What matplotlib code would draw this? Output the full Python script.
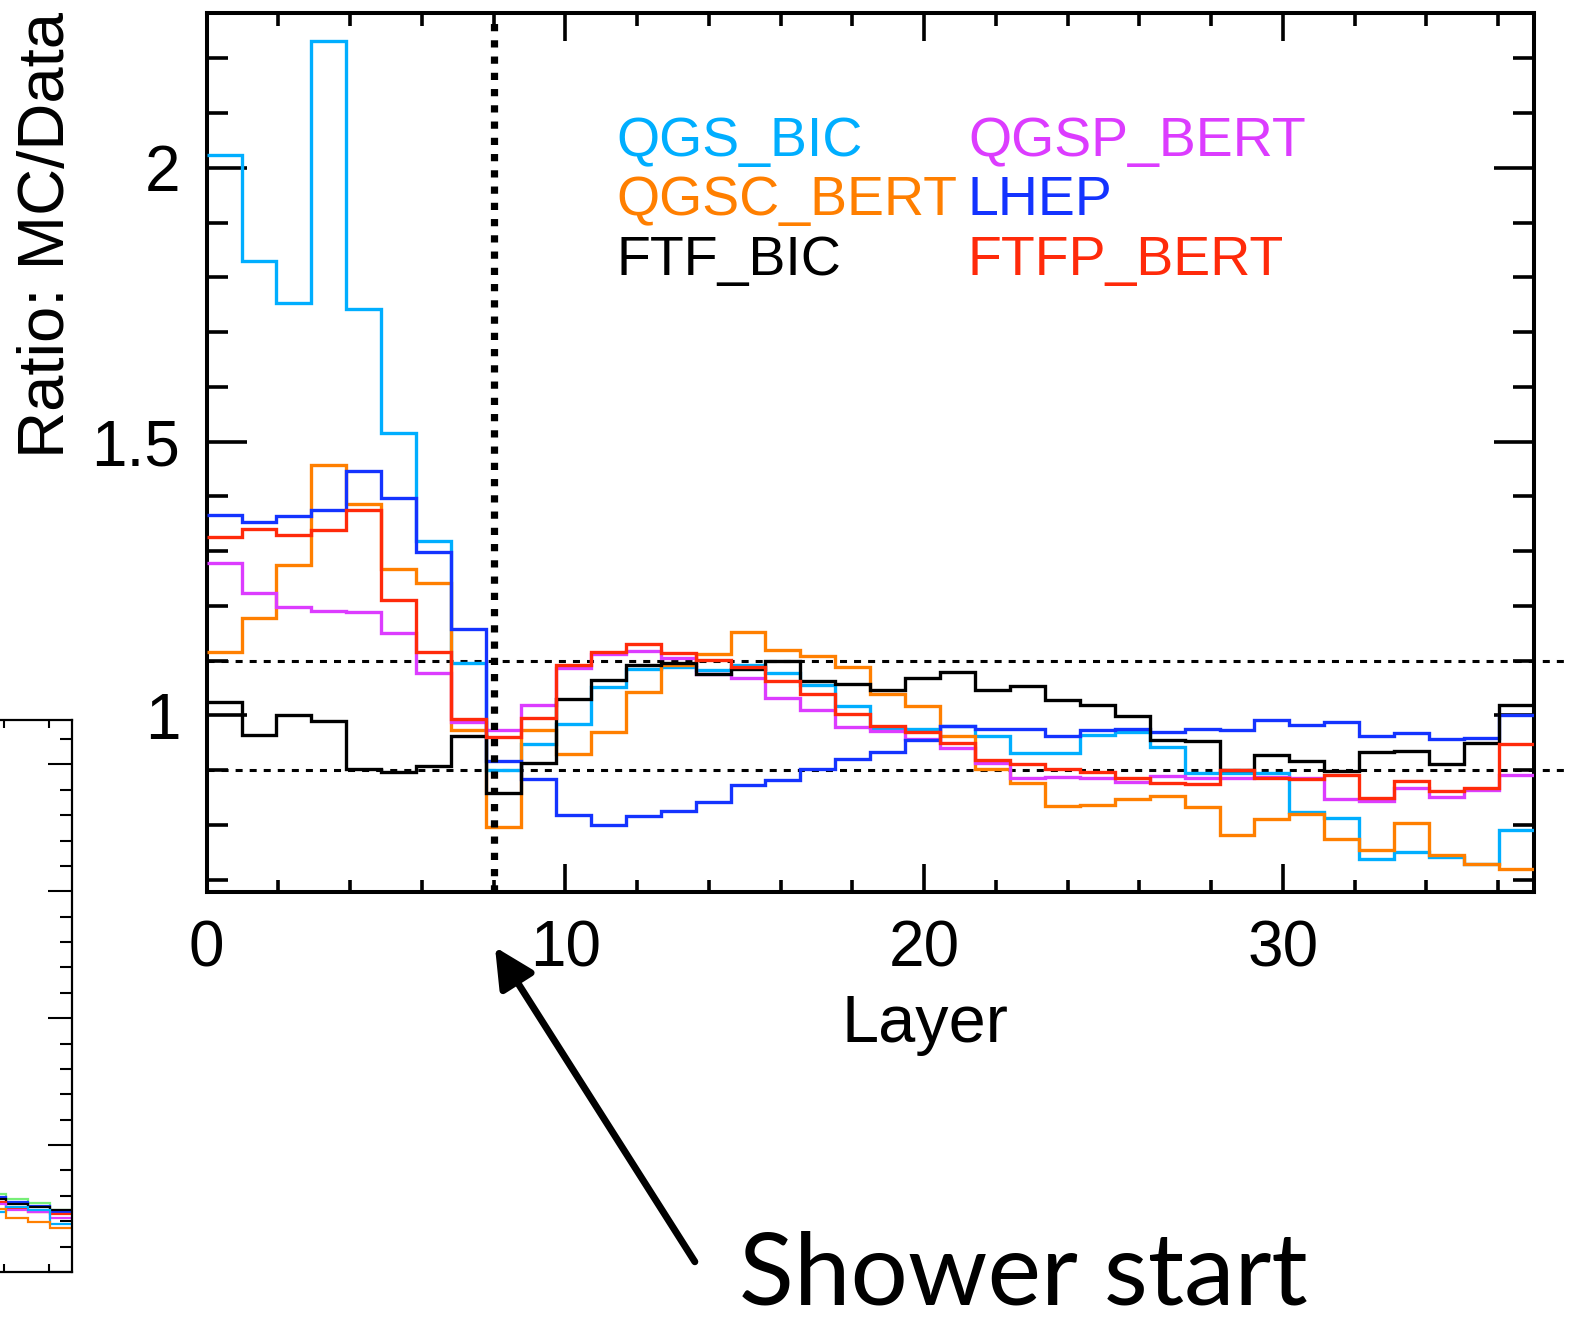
import numpy as np
import matplotlib
matplotlib.use('Agg')
import matplotlib.pyplot as plt
import matplotlib.transforms as mtransforms
from matplotlib.ticker import MultipleLocator, FuncFormatter

# ratio MC/Data per layer bin (38 bins spread over layer axis 0..37)
qgs_bic = [2.023, 1.830, 1.754, 2.232, 1.742, 1.515, 1.319, 1.095, 0.900, 0.948,
           0.985, 1.052, 1.084, 1.088, 1.083, 1.092, 1.077, 1.055, 1.017, 0.977,
           0.976, 0.981, 0.962, 0.931, 0.931, 0.964, 0.969, 0.943, 0.895, 0.895,
           0.895, 0.823, 0.813, 0.737, 0.751, 0.742, 0.729, 0.790]
qgsc_bert = [1.116, 1.178, 1.275, 1.457, 1.387, 1.267, 1.241, 0.973, 0.797, 0.974,
             0.929, 0.970, 1.042, 1.092, 1.112, 1.153, 1.120, 1.108, 1.089, 1.040,
             1.017, 0.962, 0.903, 0.877, 0.834, 0.836, 0.848, 0.853, 0.833, 0.781,
             0.810, 0.820, 0.774, 0.755, 0.804, 0.745, 0.728, 0.719]
qgsp_bert = [1.279, 1.223, 1.198, 1.191, 1.189, 1.150, 1.078, 0.988, 0.973, 1.019,
             1.086, 1.112, 1.118, 1.104, 1.075, 1.069, 1.032, 1.010, 0.979, 0.972,
             0.957, 0.940, 0.913, 0.885, 0.887, 0.885, 0.878, 0.889, 0.885, 0.885,
             0.888, 0.885, 0.848, 0.844, 0.867, 0.851, 0.864, 0.892]
lhep = [1.366, 1.354, 1.364, 1.375, 1.446, 1.397, 1.298, 1.158, 0.917, 0.884,
        0.818, 0.800, 0.816, 0.825, 0.842, 0.873, 0.882, 0.903, 0.921, 0.934,
        0.955, 0.981, 0.976, 0.976, 0.962, 0.974, 0.976, 0.970, 0.976, 0.974,
        0.991, 0.982, 0.988, 0.962, 0.967, 0.957, 0.959, 1.000]
ftf_bic = [1.024, 0.964, 1.001, 0.989, 0.903, 0.897, 0.907, 0.963, 0.859, 0.913,
           1.030, 1.064, 1.092, 1.095, 1.075, 1.084, 1.099, 1.063, 1.058, 1.047,
           1.068, 1.080, 1.046, 1.054, 1.028, 1.019, 0.999, 0.955, 0.954, 0.900,
           0.927, 0.916, 0.899, 0.933, 0.935, 0.911, 0.949, 1.019]
ftfp_bert = [1.325, 1.341, 1.329, 1.338, 1.375, 1.211, 1.116, 0.993, 0.961, 0.996,
             1.092, 1.116, 1.130, 1.114, 1.101, 1.089, 1.063, 1.039, 1.002, 0.981,
             0.970, 0.949, 0.918, 0.912, 0.903, 0.896, 0.885, 0.877, 0.874, 0.900,
             0.885, 0.883, 0.891, 0.850, 0.881, 0.862, 0.868, 0.947]

model_names = ['QGS_BIC', 'QGSC_BERT', 'QGSP_BERT', 'LHEP', 'FTF_BIC', 'FTFP_BERT']
colors = ['#00AEFF', '#FF7F00', '#DC3CFF', '#1433FF', '#000000', '#FF2A0A']

layer_max = 37
shower_start = 8
band = [0.9, 1.1]

# tail of the neighbouring panel (last four bins visible)
left_green = [0.612, 0.575, 0.541, 0.490]
left_blue = [0.593, 0.554, 0.520, 0.475]
left_black = [0.572, 0.533, 0.509, 0.488]
left_red = [0.549, 0.507, 0.470, 0.457]
left_magenta = [0.533, 0.488, 0.475, 0.428]
left_cyan = [0.470, 0.509, 0.488, 0.378]
left_orange = [0.493, 0.428, 0.391, 0.344]

font = 'Liberation Sans'

fig = plt.figure(figsize=(15.81, 13.24), dpi=100)

# --- partial left panel ---
ax0 = fig.add_axes([-0.4858, 0.0393, 0.5313, 0.4169])
edges = np.linspace(0, layer_max, len(qgs_bic) + 1)
left_edges = edges[-(len(left_green) + 1):]
for vals, c in [(left_green, '#77EE77'), (left_blue, colors[3]), (left_black, 'k'),
                (left_red, colors[5]), (left_magenta, colors[2]), (left_cyan, colors[0]),
                (left_orange, colors[1])]:
    ax0.stairs(vals, left_edges, baseline=None, color=c, lw=1.6)
ax0.set_xlim(0, layer_max)
ax0.set_ylim(0, 4.35)
ax0.xaxis.set_major_locator(MultipleLocator(10))
ax0.xaxis.set_minor_locator(MultipleLocator(2))
ax0.yaxis.set_major_locator(MultipleLocator(1))
ax0.yaxis.set_minor_locator(MultipleLocator(0.2))
ax0.tick_params(which='both', direction='in', left=False, right=True, top=True, bottom=True,
                labelleft=False, labelbottom=False, width=1.5)
ax0.tick_params(axis='y', which='major', length=17)
ax0.tick_params(axis='y', which='minor', length=9)
ax0.tick_params(axis='x', which='major', length=10)
ax0.tick_params(axis='x', which='minor', length=6)
for s in ax0.spines.values():
    s.set_linewidth(1.6)

# --- main panel ---
ax = fig.add_axes([0.1307, 0.3265, 0.8395, 0.6637])
series = [qgs_bic, qgsc_bert, qgsp_bert, lhep, ftf_bic, ftfp_bert]
for vals, c in zip(series, colors):
    ax.stairs(vals, edges, baseline=None, color=c, lw=2.4, zorder=3)

blend = mtransforms.blended_transform_factory(ax.transAxes, ax.transData)
for b in band:
    ax.plot([0, 1.025], [b, b], transform=blend, color='k', lw=2.2,
            ls=(0, (2.3, 2.3)), clip_on=False, zorder=2)
ax.axvline(shower_start, color='k', lw=5.2, ls=(0, (1, 1.25)), dash_capstyle='butt', zorder=4)

ax.set_xlim(0, layer_max)
ax.set_ylim(0.678, 2.283)
ax.xaxis.set_major_locator(MultipleLocator(10))
ax.xaxis.set_minor_locator(MultipleLocator(2))
ax.yaxis.set_major_locator(MultipleLocator(0.5))
ax.yaxis.set_minor_locator(MultipleLocator(0.1))
ax.yaxis.set_major_formatter(FuncFormatter(lambda v, p: '%g' % v))
ax.tick_params(which='both', direction='in', top=True, right=True, width=2.6)
ax.tick_params(axis='y', which='major', length=29, pad=19)
ax.tick_params(axis='y', which='minor', length=15)
ax.tick_params(axis='x', which='major', length=20, pad=20)
ax.tick_params(axis='x', which='minor', length=9)
for lab in ax.get_xticklabels() + ax.get_yticklabels():
    lab.set_fontfamily(font)
    lab.set_fontsize(46)
for s in ax.spines.values():
    s.set_linewidth(2.9)

ax.set_xlabel('Layer', fontsize=48, family=font)
ax.xaxis.set_label_coords(0.541, -0.171)
ax.xaxis.label.set_va('baseline')
ax.set_ylabel('Ratio: MC/Data', fontsize=47, family=font)
ax.yaxis.set_label_coords(-0.120, 0.747)
ax.yaxis.label.set_va('center')

# model labels in two columns
col_x = [0.309, 0.5736]
row_y = [0.8373, 0.770, 0.7017]
label_pos = {'QGS_BIC': (0, 0), 'QGSC_BERT': (0, 1), 'FTF_BIC': (0, 2),
             'QGSP_BERT': (1, 0), 'LHEP': (1, 1), 'FTFP_BERT': (1, 2)}
for name, c in zip(model_names, colors):
    ci, ri = label_pos[name]
    ax.text(col_x[ci], row_y[ri], name, color=c, fontsize=40, family=font,
            transform=ax.transAxes, va='baseline', ha='left')

# shower start annotation
fig.text(0.4675, 0.002, 'Shower start', fontsize=73, family='Lato', va='bottom', ha='left')
ax.annotate('', xy=(0.3131, 0.2847), xycoords='figure fraction',
            xytext=(0.4395, 0.0470), textcoords='figure fraction',
            arrowprops=dict(arrowstyle='-|>', lw=5, color='k', mutation_scale=60,
                            shrinkA=0, shrinkB=0), annotation_clip=False)

fig.savefig('out.png', dpi=100)
